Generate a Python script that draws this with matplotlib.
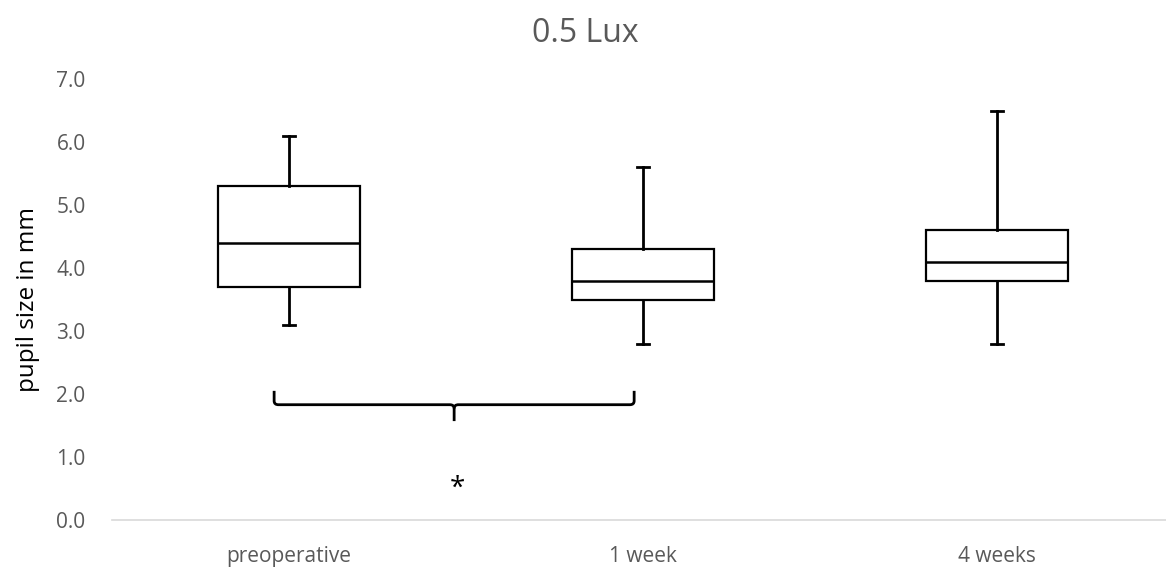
import matplotlib.pyplot as plt
from matplotlib.path import Path
from matplotlib.patches import PathPatch

plt.rcParams['font.family'] = ['Open Sans', 'DejaVu Sans']

# five-number summaries per time point (mm)
groups = ["preoperative", "1 week", "4 weeks"]
whisker_low = [3.1, 2.8, 2.8]
q1 = [3.7, 3.5, 3.8]
median = [4.4, 3.8, 4.1]
q3 = [5.3, 4.3, 4.6]
whisker_high = [6.1, 5.6, 6.5]

yticks = [0, 1, 2, 3, 4, 5, 6, 7]

fig = plt.figure(figsize=(11.66, 5.71), dpi=100)
ax = fig.add_axes([112 / 1166, 51 / 571, 1062 / 1166, 441 / 571])

stats = []
for i, name in enumerate(groups):
    stats.append({"label": name, "whislo": whisker_low[i], "q1": q1[i],
                  "med": median[i], "q3": q3[i], "whishi": whisker_high[i],
                  "fliers": []})

ax.bxp(stats, positions=range(len(groups)), widths=0.40, capwidths=0.036,
       showfliers=False, patch_artist=True,
       boxprops=dict(facecolor="white", edgecolor="black", linewidth=1.6),
       medianprops=dict(color="black", linewidth=1.8),
       whiskerprops=dict(color="black", linewidth=2.0),
       capprops=dict(color="black", linewidth=2.0))

ax.set_xlim(-0.5, 2.5)
ax.set_ylim(0, 7)
ax.set_yticks(yticks)
ax.set_yticklabels([f"{v:.1f}" for v in yticks])
ax.tick_params(axis="both", length=0, labelsize=15, colors="#595959")
ax.tick_params(axis="y", pad=19)
ax.tick_params(axis="x", pad=19)

for side in ["top", "right", "left"]:
    ax.spines[side].set_visible(False)
ax.spines["bottom"].set_color("#d9d9d9")
ax.spines["bottom"].set_linewidth(1.2)

ax.set_ylabel("pupil size in mm", fontsize=17.5, color="black", labelpad=12)
fig.text(0.502, 0.942, "0.5 Lux", fontsize=23, color="#595959",
         ha="center", va="center")

# curly brace spanning preoperative vs 1 week
xl, xr, xm = -0.042, 0.975, 0.4665
ytop, ymid, ytip = 2.05, 1.83, 1.57
r = 0.012
verts = [(xl, ytop), (xl, ymid + 0.06), (xl, ymid), (xl + r, ymid),
         (xm - r, ymid), (xm, ymid), (xm, ymid - 0.06), (xm, ytip)]
codes = [Path.MOVETO, Path.LINETO, Path.CURVE3, Path.CURVE3,
         Path.LINETO, Path.CURVE3, Path.CURVE3, Path.LINETO]
verts2 = [(xr, ytop), (xr, ymid + 0.06), (xr, ymid), (xr - r, ymid),
          (xm + r, ymid), (xm, ymid), (xm, ymid - 0.06)]
codes2 = [Path.MOVETO, Path.LINETO, Path.CURVE3, Path.CURVE3,
          Path.LINETO, Path.CURVE3, Path.CURVE3]
for v, c in [(verts, codes), (verts2, codes2)]:
    ax.add_patch(PathPatch(Path(v, c), facecolor="none", edgecolor="black",
                           linewidth=2.0, capstyle="butt"))

ax.text(0.475, 0.5, "*", ha="center", va="center", fontsize=20, color="black")

fig.savefig("out.png", dpi=100)
